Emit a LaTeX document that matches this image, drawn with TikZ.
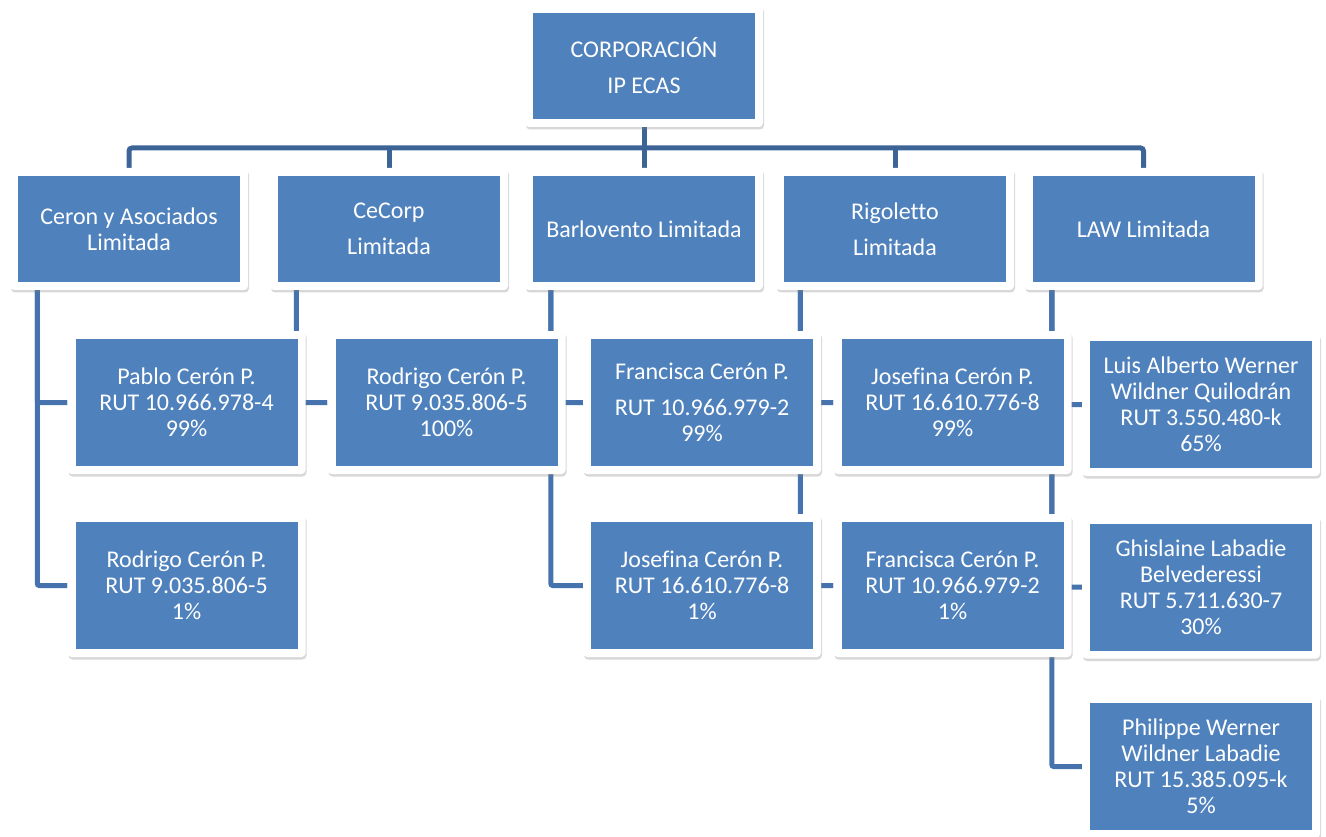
\documentclass[tikz,border=0pt]{standalone}
\usepackage{fontspec}
\setmainfont{Carlito}[Ligatures=NoCommon]
\usetikzlibrary{calc,shadows,backgrounds}
\definecolor{boxblue}{RGB}{79,129,189}
\definecolor{topline}{RGB}{60,100,150}
\definecolor{lowline}{RGB}{70,114,174}
\begin{document}
\begin{tikzpicture}[x=1pt,y=-1pt,
  orgbox/.style={fill=white, rounded corners=4pt, inner sep=0pt, align=center,
    text=white, font=\fontsize{24}{26}\selectfont,
    drop shadow={shadow xshift=1pt,shadow yshift=-2.5pt,opacity=0.3},
    path picture={\fill[boxblue,sharp corners]
      ([xshift=8pt,yshift=-8pt]path picture bounding box.north west) rectangle
      ([xshift=-8pt,yshift=8pt]path picture bounding box.south east);}},
  widebox/.style={orgbox, minimum width=238pt, minimum height=122pt},
  tallbox/.style={orgbox, minimum width=238pt, minimum height=143pt},
  topconn/.style={draw=topline, line width=5pt, rounded corners=3pt},
  lowconn/.style={draw=lowline, line width=5pt, rounded corners=2pt}]
\useasboundingbox (0,0) rectangle (1326,837);

% top
\node[widebox] (corp) at (644,66) {CORPORACIÓN\\[10pt]IP ECAS};
% row 1
\node[widebox] (ceron) at (129,229) {Ceron y Asociados\\Limitada};
\node[widebox] (cecorp) at (389,229) {CeCorp\\[10pt]Limitada};
\node[widebox] (barl) at (644,229) {Barlovento Limitada};
\node[widebox] (rigo) at (895,229) {Rigoletto\\[10pt]Limitada};
\node[widebox] (law) at (1143.5,229) {LAW Limitada};
% row 2
\node[tallbox] (pablo) at (186.5,402.5) {Pablo Cerón P.\\RUT 10.966.978-4\\99\%};
\node[tallbox] (rod100) at (446.5,402.5) {Rodrigo Cerón P.\\RUT 9.035.806-5\\100\%};
\node[tallbox] (fran99) at (702,402.5) {Francisca Cerón P.\\[10pt]RUT 10.966.979-2\\99\%};
\node[tallbox] (jos99) at (952.5,402.5) {Josefina Cerón P.\\RUT 16.610.776-8\\99\%};
\node[tallbox] (luis) at (1201,404.5) {Luis Alberto Werner\\Wildner Quilodrán\\RUT 3.550.480-k\\65\%};
% row 3
\node[tallbox] (rod1) at (186.5,585.5) {Rodrigo Cerón P.\\RUT 9.035.806-5\\1\%};
\node[tallbox] (jos1) at (702,585.5) {Josefina Cerón P.\\RUT 16.610.776-8\\1\%};
\node[tallbox] (fran1) at (952.5,585.5) {Francisca Cerón P.\\RUT 10.966.979-2\\1\%};
\node[tallbox] (ghis) at (1201,587) {Ghislaine Labadie\\Belvederessi\\RUT 5.711.630-7\\30\%};
% row 4
\node[tallbox] (phil) at (1201,766.5) {Philippe Werner\\Wildner Labadie\\RUT 15.385.095-k\\5\%};

\begin{scope}[on background layer]
\fill[white] (0,0) rectangle (1326,837);
\coordinate (bus) at (644,148);
\draw[topconn] (ceron.north) |- (bus) -| (law.north);
\draw[topconn] (corp.south) -- (bus);
\draw[topconn] (cecorp.north) -- (cecorp.north |- bus);
\draw[topconn] (barl.north) -- (barl.north |- bus);
\draw[topconn] (rigo.north) -- (rigo.north |- bus);

\coordinate (ceronx) at ($(ceron.south -| pablo.west)+(-30,0)$);
\draw[lowconn] (ceronx) |- (pablo.west);
\draw[lowconn] (ceronx) |- (rod1.west);

\coordinate (cecorpx) at ($(cecorp.south -| rod100.west)+(-31,0)$);
\draw[lowconn] (cecorpx) |- (rod100.west);

\coordinate (barlx) at ($(barl.south -| fran99.west)+(-32,0)$);
\draw[lowconn] (barlx) |- (fran99.west);
\draw[lowconn] (barlx) |- (jos1.west);

\coordinate (rigox) at ($(rigo.south -| jos99.west)+(-33,0)$);
\draw[lowconn] (rigox) |- (jos99.west);
\draw[lowconn] (rigox) |- (fran1.west);

\coordinate (lawx) at ($(law.south -| luis.west)+(-30,0)$);
\draw[lowconn] (lawx) |- (luis.west);
\draw[lowconn] (lawx) |- (ghis.west);
\draw[lowconn] (lawx) |- (phil.west);
\end{scope}
\end{tikzpicture}
\end{document}
